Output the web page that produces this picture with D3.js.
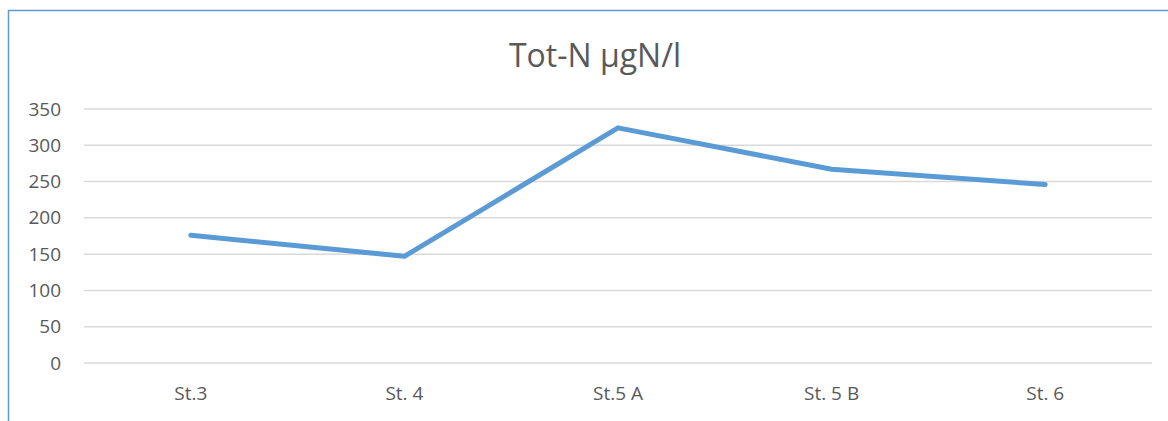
<!DOCTYPE html>
<html>
<head>
<meta charset="utf-8">
<script src="https://cdn.jsdelivr.net/npm/d3@7"></script>
<style>
  html, body { margin: 0; padding: 0; background: #fff; }
  svg { display: block; }
  text { font-family: "Open Sans", "Noto Sans", sans-serif; fill: #595959; }
</style>
</head>
<body>
<svg id="chart" width="1168" height="421"></svg>
<script>
// Total nitrogen per station
const stations = ["St.3", "St. 4", "St.5 A", "St. 5 B", "St. 6"];
const totN = [176, 147, 324, 267, 246];
const yTicks = [0, 50, 100, 150, 200, 250, 300, 350];
const chartTitle = "Tot-N µgN/l";

const W = 1168, H = 421;
const plot = { left: 84, right: 1152, top: 109, bottom: 363 };

const svg = d3.select("#chart");

// chart frame (left and top edges visible)
svg.append("path")
  .attr("d", `M8.5,${H} L8.5,10.5 L${W},10.5`)
  .attr("fill", "none")
  .attr("stroke", "#5B9BD5")
  .attr("stroke-width", 1.5);

const x = d3.scaleBand().domain(stations).range([plot.left, plot.right]);
const y = d3.scaleLinear().domain([0, 350]).range([plot.bottom, plot.top]);

// horizontal gridlines
svg.append("g")
  .selectAll("line")
  .data(yTicks)
  .join("line")
  .attr("x1", plot.left).attr("x2", plot.right)
  .attr("y1", d => y(d)).attr("y2", d => y(d))
  .attr("stroke", "#D9D9D9")
  .attr("stroke-width", 1.5);

// y axis labels
const yAxis = d3.axisLeft(y).tickValues(yTicks).tickSize(0).tickPadding(0);
const gy = svg.append("g").attr("transform", "translate(61,0)").call(yAxis);
gy.select(".domain").remove();
gy.selectAll("text")
  .attr("font-size", 19)
  .attr("font-family", "'Open Sans', sans-serif")
  .attr("fill", "#595959");

// x axis labels
const xAxis = d3.axisBottom(x).tickSize(0).tickPadding(0);
const gx = svg.append("g").attr("transform", "translate(0,386)").call(xAxis);
gx.select(".domain").remove();
gx.selectAll("text")
  .attr("font-size", 19)
  .attr("font-family", "'Open Sans', sans-serif")
  .attr("fill", "#595959")
  .attr("dy", "0.71em");

// series line
const line = d3.line()
  .x((d, i) => x(stations[i]) + x.bandwidth() / 2)
  .y(d => y(d));

svg.append("path")
  .datum(totN)
  .attr("d", line)
  .attr("fill", "none")
  .attr("stroke", "#5B9BD5")
  .attr("stroke-width", 5)
  .attr("stroke-linejoin", "round")
  .attr("stroke-linecap", "round");

// title
svg.append("text")
  .attr("x", 595)
  .attr("y", 67)
  .attr("text-anchor", "middle")
  .attr("font-size", 32)
  .attr("fill", "#595959")
  .text(chartTitle);
</script>
</body>
</html>
